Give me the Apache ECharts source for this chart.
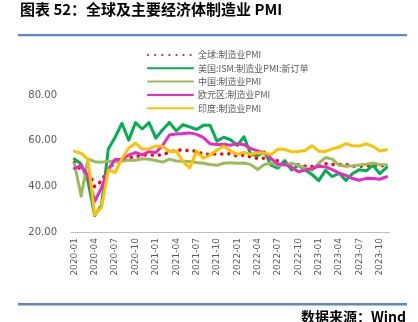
<!DOCTYPE html>
<html><head><meta charset="utf-8">
<script src="https://cdn.jsdelivr.net/npm/echarts@6/dist/echarts.min.js"></script>
<style>html,body{margin:0;padding:0;background:#fff;}#c{width:418px;height:322px;}</style>
</head><body><div id="c"></div>
<script>
const categories = [
  '2020-01','2020-02','2020-03','2020-04','2020-05','2020-06','2020-07','2020-08','2020-09','2020-10','2020-11','2020-12',
  '2021-01','2021-02','2021-03','2021-04','2021-05','2021-06','2021-07','2021-08','2021-09','2021-10','2021-11','2021-12',
  '2022-01','2022-02','2022-03','2022-04','2022-05','2022-06','2022-07','2022-08','2022-09','2022-10','2022-11','2022-12',
  '2023-01','2023-02','2023-03','2023-04','2023-05','2023-06','2023-07','2023-08','2023-09','2023-10','2023-11'
];
const seriesNames = ['全球:制造业PMI','美国:ISM:制造业PMI:新订单','中国:制造业PMI','欧元区:制造业PMI','印度:制造业PMI'];
const globalPMI = [
  50.4,47.1,47.6,39.8,42.4,47.9,50.3,51.8,52.4,53.0,53.7,53.8,
  53.6,53.9,55.0,55.8,56.0,55.5,55.4,54.1,54.1,54.2,54.2,54.3,
  53.2,53.7,52.9,52.2,52.3,52.2,51.1,50.3,49.8,49.4,48.8,48.7,
  49.1,49.9,49.6,49.6,49.6,48.8,48.7,49.0,49.2,48.8,49.3
];
const usISMNewOrders = [
  52.0,49.8,42.2,27.1,31.8,56.4,61.5,67.6,60.2,67.9,65.1,67.9,
  61.1,64.8,68.0,64.3,67.0,66.0,64.9,66.7,66.7,59.8,61.5,60.4,
  57.9,61.7,53.8,53.5,55.1,49.2,48.0,51.3,47.1,49.2,47.2,45.2,
  42.5,47.0,44.3,45.7,42.6,45.6,47.3,46.8,49.2,45.5,48.3
];
const chinaPMI = [
  50.0,35.7,52.0,50.8,50.6,50.9,51.1,51.0,51.5,51.4,52.1,51.9,
  51.3,50.6,51.9,51.1,51.0,50.9,50.4,50.1,49.6,49.2,50.1,50.3,
  50.1,50.2,49.5,47.4,49.6,50.2,49.0,49.4,50.1,49.2,48.0,47.0,
  50.1,52.6,51.9,49.2,48.8,49.0,49.3,49.7,50.2,49.5,49.4
];
const euroPMI = [
  47.9,49.2,44.5,33.4,39.4,47.4,51.8,51.7,53.7,54.8,53.8,55.2,
  54.8,57.9,62.5,62.9,63.1,63.4,62.8,61.4,58.6,58.3,58.4,58.0,
  58.7,58.2,56.5,55.5,54.6,52.1,49.8,49.6,48.4,46.4,47.1,47.8,
  48.8,48.5,47.3,45.8,44.8,43.4,42.7,43.5,43.4,43.1,44.2
];
const indiaPMI = [
  55.3,54.5,51.8,27.4,30.8,47.2,46.0,52.0,56.8,58.9,56.3,56.4,
  57.7,57.5,55.4,55.5,50.8,48.1,55.3,52.3,53.7,55.9,57.6,55.5,
  54.0,54.9,54.0,54.7,54.6,53.9,56.4,56.2,55.1,55.3,55.7,57.8,
  55.4,55.3,56.4,57.2,58.7,57.8,57.7,58.6,57.5,55.5,56.0
];
const yMin = 20, yMax = 80, yStep = 20;

const colors = ['#ff0000','#00b050','#9bbb59','#e629c8','#ffc000'];
const dataList = [globalPMI, usISMNewOrders, chinaPMI, euroPMI, indiaPMI];

const chart = echarts.init(document.getElementById('c'), null, {renderer:'canvas'});
const series = dataList.map((d, i) => ({
  name: seriesNames[i],
  type: 'line',
  data: d,
  symbol: 'none',
  showSymbol: false,
  itemStyle: {color: colors[i]},
  lineStyle: i === 0
    ? {color: colors[i], width: 3.5, type: [0.1, 7], cap: 'round'}
    : {color: colors[i], width: 3, join: 'round', cap: 'round'}
}));

chart.setOption({
  animation: false,
  backgroundColor: '#fff',
  graphic: [
    {type:'text', left:20, top:2, style:{text:'图表 52：全球及主要经济体制造业 PMI', font:'bold 15px "Noto Sans CJK SC"', fill:'#000'}},
    {type:'rect', shape:{x:18, y:34, width:389, height:2.2}, style:{fill:'#5b87c4'}},
    {type:'rect', shape:{x:18, y:303, width:389, height:2.5}, style:{fill:'#5b87c4'}},
    {type:'text', right:12, top:310, style:{text:'数据来源：Wind', font:'bold 14px "Noto Sans CJK SC"', fill:'#000'}}
  ],
  legend: {
    orient: 'vertical', left: 142, top: 45,
    itemWidth: 45, itemHeight: 10, itemGap: 3.3,
    itemStyle: {opacity: 0},
    textStyle: {fontSize: 9, color: '#595959', fontFamily: '"Noto Sans CJK SC"', lineHeight: 10},
    data: seriesNames
  },
  grid: {left: 71, right: 28, top: 95, bottom: 90},
  xAxis: {
    type: 'category', data: categories, boundaryGap: true,
    axisLine: {lineStyle: {color: '#bfbfbf', width: 1}},
    axisTick: {interval: 2, length: 5, lineStyle: {color: '#bfbfbf'}},
    axisLabel: {interval: 2, rotate: 90, fontSize: 9, color: '#595959', margin: 6, fontFamily: 'DejaVu Sans'}
  },
  yAxis: {
    type: 'value', min: yMin, max: yMax, interval: yStep,
    axisLine: {show: false}, axisTick: {show: false}, splitLine: {show: false},
    axisLabel: {formatter: v => v.toFixed(2), fontSize: 10, color: '#595959', margin: 14, fontFamily: 'DejaVu Sans'}
  },
  series: series
});
</script></body></html>
